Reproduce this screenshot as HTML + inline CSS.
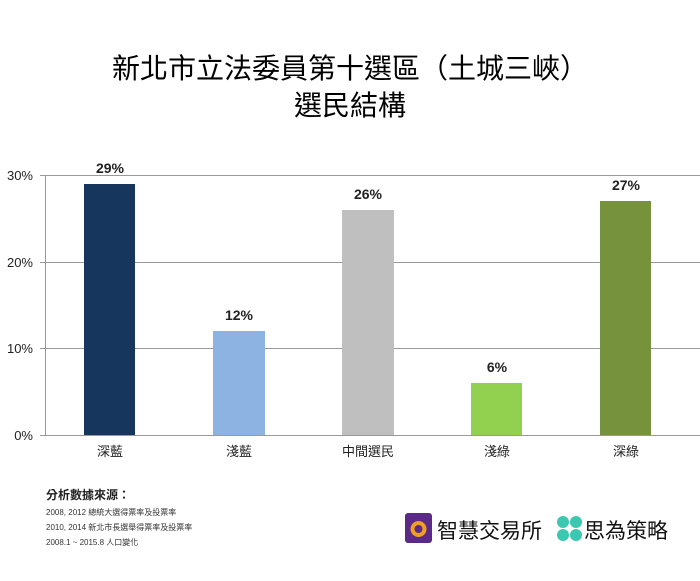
<!DOCTYPE html>
<html><head><meta charset="utf-8"><style>
body{margin:0;width:700px;height:576px;background:#fff;overflow:hidden;font-family:"Liberation Sans","Noto Sans CJK TC",sans-serif}
</style></head><body>
<svg width="700" height="576" xmlns="http://www.w3.org/2000/svg" font-family="Liberation Sans, Noto Sans CJK TC, sans-serif">
<text x="350" y="78" font-size="28" text-anchor="middle" fill="#000">新北市立法委員第十選區（土城三峽）</text>
<text x="350" y="115" font-size="28" text-anchor="middle" fill="#000">選民結構</text>
<g stroke="#999" stroke-width="1">
<line x1="40" y1="175.5" x2="700" y2="175.5"/>
<line x1="40" y1="262.5" x2="700" y2="262.5"/>
<line x1="40" y1="348.5" x2="700" y2="348.5"/>
<line x1="40" y1="435.5" x2="700" y2="435.5"/>
<line x1="45.5" y1="175" x2="45.5" y2="435"/>
</g>
<g font-size="13" fill="#222" text-anchor="end">
<text x="33" y="180">30%</text><text x="33" y="267">20%</text><text x="33" y="353">10%</text><text x="33" y="440">0%</text>
</g>
<rect x="84" y="184" width="51" height="251" fill="#17365d"/>
<rect x="213" y="331" width="52" height="104" fill="#8db3e2"/>
<rect x="342" y="210" width="52" height="225" fill="#bfbfbf"/>
<rect x="471" y="383" width="51" height="52" fill="#92d050"/>
<rect x="600" y="201" width="51" height="234" fill="#76923c"/>
<g font-size="14" font-weight="bold" fill="#222" text-anchor="middle">
<text x="110" y="173">29%</text><text x="239" y="320">12%</text><text x="368" y="199">26%</text><text x="497" y="372">6%</text><text x="626" y="190">27%</text>
</g>
<g font-size="13" fill="#222" text-anchor="middle">
<text x="110" y="456">深藍</text><text x="239" y="456">淺藍</text><text x="368" y="456">中間選民</text><text x="497" y="456">淺綠</text><text x="626" y="456">深綠</text>
</g>
<text x="46" y="499" font-size="12" font-weight="bold" fill="#222">分析數據來源：</text>
<g font-size="8" fill="#333">
<text x="46" y="515">2008, 2012 總統大選得票率及投票率</text>
<text x="46" y="530">2010, 2014 新北市長選舉得票率及投票率</text>
<text x="46" y="545">2008.1 ~ 2015.8 人口變化</text>
</g>
<rect x="405" y="513" width="27" height="30" rx="3" fill="#5b2a86"/>
<circle cx="418.5" cy="529" r="8" fill="#f0a020"/>
<circle cx="418.5" cy="529" r="4" fill="#5b2a86"/>
<text x="437" y="538" font-size="21" fill="#111">智慧交易所</text>
<circle cx="563" cy="522" r="6" fill="#3cc8b0"/><circle cx="576" cy="522" r="6" fill="#3cc8b0"/>
<circle cx="563" cy="535" r="6" fill="#3cc8b0"/><circle cx="576" cy="535" r="6" fill="#3cc8b0"/>
<text x="584" y="538" font-size="21" fill="#111">思為策略</text>
</svg>
</body></html>
